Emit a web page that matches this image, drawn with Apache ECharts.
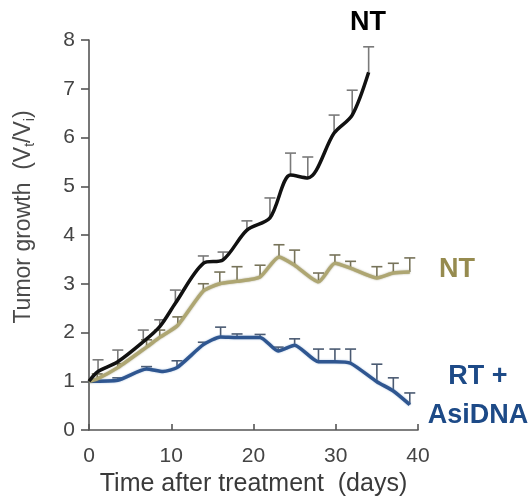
<!DOCTYPE html>
<html>
<head>
<meta charset="utf-8">
<title>Tumor growth</title>
<script src="https://cdn.jsdelivr.net/npm/echarts@6/dist/echarts.min.js"></script>
<style>
    html, body { margin: 0; padding: 0; background: #fff; }
    #container { width: 531px; height: 497px; }
</style>
</head>
<body>
<div id="container"></div>
<script type="text/javascript">
    // axis ticks
    var xTicks = [0, 10, 20, 30, 40];
    var yTicks = [0, 1, 2, 3, 4, 5, 6, 7, 8];

    // NT (untreated, black): day, mean, top of error bar
    var ntDays = [0, 1.1, 3.5, 6.6, 8.6, 10.5, 13.9, 16.3, 19.2, 22, 24.5, 26.6, 29.8, 32, 34];
    var ntVals = [1.0, 1.2, 1.4, 1.81, 2.12, 2.6, 3.42, 3.49, 4.1, 4.35, 5.23, 5.17, 6.09, 6.46, 7.34];
    var ntTops = [null, 1.44, 1.64, 2.05, 2.26, 2.87, 3.57, 3.65, 4.29, 4.76, 5.68, 5.6, 6.46, 6.97, 7.86];

    // NT (olive)
    var nt2Days = [0, 1, 3.5, 7, 8.6, 10.8, 13.9, 15.9, 18, 20.8, 23.1, 25, 27.9, 29.9, 31.8, 35, 37, 39];
    var nt2Vals = [1.0, 1.05, 1.28, 1.7, 1.9, 2.15, 2.85, 3.0, 3.05, 3.14, 3.55, 3.38, 3.04, 3.42, 3.32, 3.12, 3.22, 3.24];
    var nt2Tops = [null, 1.15, 1.36, 1.85, 2.05, 2.32, 3.0, 3.24, 3.35, 3.38, 3.8, 3.69, 3.22, 3.59, 3.46, 3.35, 3.42, 3.53];

    // RT + AsiDNA (blue)
    var rtDays = [0, 3.5, 7, 9, 10.7, 13.9, 16, 18, 20.8, 23, 25, 27.9, 29.9, 31.8, 35, 37, 39];
    var rtVals = [1.0, 1.02, 1.25, 1.2, 1.28, 1.75, 1.91, 1.9, 1.9, 1.62, 1.74, 1.4, 1.4, 1.37, 0.99, 0.8, 0.52];
    var rtTops = [null, 1.07, 1.3, null, 1.42, 1.8, 2.11, 1.97, 1.96, 1.7, 1.87, 1.66, 1.66, 1.66, 1.35, 1.07, 0.76];

    function pairs(days, vals) {
        return days.map(function (d, i) { return [d, vals[i]]; });
    }
    function bars(days, vals, tops) {
        var out = [];
        days.forEach(function (d, i) {
            if (tops[i] != null) out.push([d, vals[i], tops[i]]);
        });
        return out;
    }
    // error bar: stem from mean up to top, with a cap
    function errorBar(color) {
        return function (params, api) {
            var p0 = api.coord([api.value(0), api.value(1)]);
            var p1 = api.coord([api.value(0), api.value(2)]);
            var w = 5.5;
            var st = { stroke: color, lineWidth: 1.6 };
            return {
                type: 'group',
                children: [
                    { type: 'line', shape: { x1: p0[0], y1: p0[1], x2: p1[0], y2: p1[1] }, style: st },
                    { type: 'line', shape: { x1: p1[0] - w, y1: p1[1], x2: p1[0] + w, y2: p1[1] }, style: st }
                ]
            };
        };
    }

    var font = "'Liberation Sans', Arial, sans-serif";
    var myChart = echarts.init(document.getElementById('container'));

    var option = {
        backgroundColor: '#fff',
        animation: false,
        grid: { left: 89, right: 113, top: 40, bottom: 67, outerBoundsMode: 'none' },
        xAxis: {
            type: 'value',
            min: xTicks[0],
            max: xTicks[xTicks.length - 1],
            interval: 10,
            name: 'Time after treatment  (days)',
            nameLocation: 'middle',
            nameGap: 35,
            nameTextStyle: { fontFamily: font, fontSize: 25, color: '#3a3a3a' },
            axisLine: { lineStyle: { color: '#555', width: 1.6 } },
            axisTick: { inside: true, length: 6, lineStyle: { color: '#555', width: 1.6 } },
            axisLabel: { fontFamily: font, fontSize: 21, color: '#444', margin: 16 },
            splitLine: { show: false }
        },
        yAxis: {
            type: 'value',
            min: yTicks[0],
            max: yTicks[yTicks.length - 1],
            interval: 1,
            name: '{n|Tumor growth  (V}{s|t}{n|/V}{s|i}{n|)}',
            nameLocation: 'middle',
            nameGap: 52,
            nameTextStyle: {
                fontFamily: font, fontSize: 23, color: '#4a4a4a',
                padding: [0, 0, 0, 36],
                rich: {
                    n: { fontFamily: font, fontSize: 23, color: '#4a4a4a', lineHeight: 26 },
                    s: { fontFamily: font, fontSize: 14, color: '#4a4a4a', lineHeight: 26, verticalAlign: 'bottom', padding: [8, 0, 0, 0] }
                }
            },
            axisLine: { show: true, lineStyle: { color: '#555', width: 1.6 } },
            axisTick: { show: true, length: 8, lineStyle: { color: '#555', width: 1.6 } },
            axisLabel: { fontFamily: font, fontSize: 21, color: '#444', margin: 14 },
            splitLine: { show: false }
        },
        series: [
            {
                type: 'custom', name: 'RT + AsiDNA err', z: 2,
                renderItem: errorBar('#4a5a72'),
                encode: { x: 0, y: [1, 2] },
                data: bars(rtDays, rtVals, rtTops)
            },
            {
                type: 'custom', name: 'NT err', z: 2,
                renderItem: errorBar('#77735a'),
                encode: { x: 0, y: [1, 2] },
                data: bars(nt2Days, nt2Vals, nt2Tops)
            },
            {
                type: 'custom', name: 'NT black err', z: 2,
                renderItem: errorBar('#7a7a7a'),
                encode: { x: 0, y: [1, 2] },
                data: bars(ntDays, ntVals, ntTops)
            },
            {
                type: 'line', name: 'RT + AsiDNA', z: 3,
                data: pairs(rtDays, rtVals),
                smooth: 0.2, symbol: 'none',
                lineStyle: { color: '#2f5690', width: 3.5, shadowColor: 'rgba(110,150,200,0.6)', shadowBlur: 2 }
            },
            {
                type: 'line', name: 'NT', z: 4,
                data: pairs(nt2Days, nt2Vals),
                smooth: 0.2, symbol: 'none',
                lineStyle: { color: '#aea672', width: 3.5, shadowColor: 'rgba(120,115,70,0.6)', shadowBlur: 2 }
            },
            {
                type: 'line', name: 'NT untreated', z: 5,
                data: pairs(ntDays, ntVals),
                smooth: 0.3, symbol: 'none',
                lineStyle: { color: '#111', width: 3.5 }
            }
        ],
        graphic: [
            { type: 'text', x: 368, y: 23, style: { text: 'NT', fill: '#000', font: 'bold 27px ' + font, textAlign: 'center', textVerticalAlign: 'middle' } },
            { type: 'text', x: 457, y: 270, style: { text: 'NT', fill: '#968b4f', font: 'bold 27px ' + font, textAlign: 'center', textVerticalAlign: 'middle' } },
            { type: 'text', x: 478, y: 377, style: { text: 'RT +', fill: '#1d4a87', font: 'bold 27px ' + font, textAlign: 'center', textVerticalAlign: 'middle' } },
            { type: 'text', x: 478, y: 416, style: { text: 'AsiDNA', fill: '#1d4a87', font: 'bold 27px ' + font, textAlign: 'center', textVerticalAlign: 'middle' } }
        ]
    };

    myChart.setOption(option);
</script>
</body>
</html>
